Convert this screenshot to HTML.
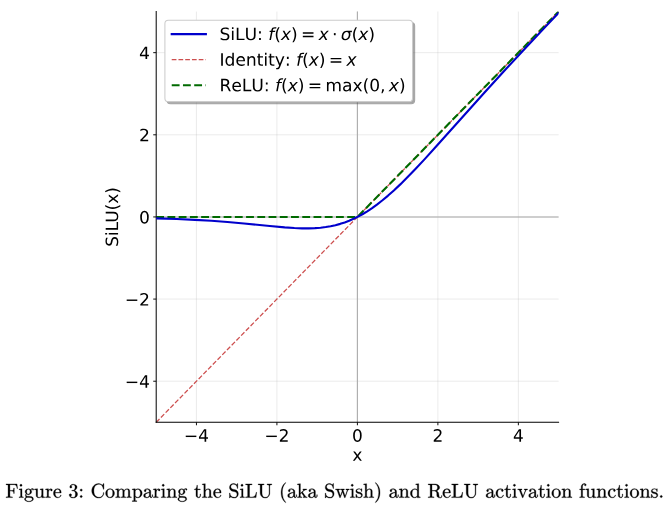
<!DOCTYPE html>
<html><head><meta charset="utf-8"><style>
html,body{margin:0;padding:0;background:#fff;width:670px;height:506px;overflow:hidden;font-family:"Liberation Sans",sans-serif;}
.wrap{position:absolute;left:0;top:0;width:670px;height:506px;filter:blur(0.35px);}
.wrap svg{display:block;width:670px;height:506px}
</style></head><body><div class="wrap">
<svg width="632.075472pt" height="477.358491pt" viewBox="0 0 632.075472 477.358491" version="1.1">
 
 <defs>
  <style type="text/css">*{stroke-linejoin: round; stroke-linecap: butt}</style>
 </defs>
 <g id="figure_1">
  <g id="patch_1">
   <path d="M 0 477.358491 
L 632.075472 477.358491 
L 632.075472 0 
L 0 0 
z
" style="fill: #ffffff"/>
  </g>
  <g id="axes_1">
   <g id="patch_2">
    <path d="M 147.358491 398.396226 
L 526.981132 398.396226 
L 526.981132 10.943396 
L 147.358491 10.943396 
z
" style="fill: #ffffff"/>
   </g>
   <g id="line2d_1">
    <path d="M 147.358491 204.669811 
L 526.981132 204.669811 
" clip-path="url(#pacdad2849d)" style="fill: none; stroke: #808080; stroke-opacity: 0.68; stroke-linecap: square"/>
   </g>
   <g id="line2d_2">
    <path d="M 337.169811 398.396226 
L 337.169811 10.943396 
" clip-path="url(#pacdad2849d)" style="fill: none; stroke: #808080; stroke-opacity: 0.68; stroke-linecap: square"/>
   </g>
   <g id="matplotlib.axis_1">
    <g id="xtick_1">
     <g id="line2d_3">
      <path d="M 185.320755 398.396226 
L 185.320755 10.943396 
" clip-path="url(#pacdad2849d)" style="fill: none; stroke: #b0b0b0; stroke-opacity: 0.3; stroke-width: 0.8; stroke-linecap: square"/>
     </g>
     <g id="line2d_4">
      <defs>
       <path id="m2d3abd2fa3" d="M 0 0 
L 0 2.8 
" style="stroke: #000000; stroke-width: 0.9"/>
      </defs>
      <g>
       <use xlink:href="#m2d3abd2fa3" x="185.320755" y="398.396226" style="stroke: #000000; stroke-width: 0.9"/>
      </g>
     </g>
     <g id="text_1">
      <!-- −4 -->
      <g transform="translate(173.527005 416.653726) scale(0.16 -0.16)">
       <defs>
        <path id="DejaVuSans-2212" d="M 678 2272 
L 4684 2272 
L 4684 1741 
L 678 1741 
L 678 2272 
z
" transform="scale(0.015625)"/>
        <path id="DejaVuSans-34" d="M 2419 4116 
L 825 1625 
L 2419 1625 
L 2419 4116 
z
M 2253 4666 
L 3047 4666 
L 3047 1625 
L 3713 1625 
L 3713 1100 
L 3047 1100 
L 3047 0 
L 2419 0 
L 2419 1100 
L 313 1100 
L 313 1709 
L 2253 4666 
z
" transform="scale(0.015625)"/>
       </defs>
       <use xlink:href="#DejaVuSans-2212"/>
       <use xlink:href="#DejaVuSans-34" transform="translate(83.789062 0)"/>
      </g>
     </g>
    </g>
    <g id="xtick_2">
     <g id="line2d_5">
      <path d="M 261.245283 398.396226 
L 261.245283 10.943396 
" clip-path="url(#pacdad2849d)" style="fill: none; stroke: #b0b0b0; stroke-opacity: 0.3; stroke-width: 0.8; stroke-linecap: square"/>
     </g>
     <g id="line2d_6">
      <g>
       <use xlink:href="#m2d3abd2fa3" x="261.245283" y="398.396226" style="stroke: #000000; stroke-width: 0.9"/>
      </g>
     </g>
     <g id="text_2">
      <!-- −2 -->
      <g transform="translate(249.451533 416.653726) scale(0.16 -0.16)">
       <defs>
        <path id="DejaVuSans-32" d="M 1228 531 
L 3431 531 
L 3431 0 
L 469 0 
L 469 531 
Q 828 903 1448 1529 
Q 2069 2156 2228 2338 
Q 2531 2678 2651 2914 
Q 2772 3150 2772 3378 
Q 2772 3750 2511 3984 
Q 2250 4219 1831 4219 
Q 1534 4219 1204 4116 
Q 875 4013 500 3803 
L 500 4441 
Q 881 4594 1212 4672 
Q 1544 4750 1819 4750 
Q 2544 4750 2975 4387 
Q 3406 4025 3406 3419 
Q 3406 3131 3298 2873 
Q 3191 2616 2906 2266 
Q 2828 2175 2409 1742 
Q 1991 1309 1228 531 
z
" transform="scale(0.015625)"/>
       </defs>
       <use xlink:href="#DejaVuSans-2212"/>
       <use xlink:href="#DejaVuSans-32" transform="translate(83.789062 0)"/>
      </g>
     </g>
    </g>
    <g id="xtick_3">
     <g id="line2d_7">
      <path d="M 337.169811 398.396226 
L 337.169811 10.943396 
" clip-path="url(#pacdad2849d)" style="fill: none; stroke: #b0b0b0; stroke-opacity: 0.3; stroke-width: 0.8; stroke-linecap: square"/>
     </g>
     <g id="line2d_8">
      <g>
       <use xlink:href="#m2d3abd2fa3" x="337.169811" y="398.396226" style="stroke: #000000; stroke-width: 0.9"/>
      </g>
     </g>
     <g id="text_3">
      <!-- 0 -->
      <g transform="translate(332.079811 416.653726) scale(0.16 -0.16)">
       <defs>
        <path id="DejaVuSans-30" d="M 2034 4250 
Q 1547 4250 1301 3770 
Q 1056 3291 1056 2328 
Q 1056 1369 1301 889 
Q 1547 409 2034 409 
Q 2525 409 2770 889 
Q 3016 1369 3016 2328 
Q 3016 3291 2770 3770 
Q 2525 4250 2034 4250 
z
M 2034 4750 
Q 2819 4750 3233 4129 
Q 3647 3509 3647 2328 
Q 3647 1150 3233 529 
Q 2819 -91 2034 -91 
Q 1250 -91 836 529 
Q 422 1150 422 2328 
Q 422 3509 836 4129 
Q 1250 4750 2034 4750 
z
" transform="scale(0.015625)"/>
       </defs>
       <use xlink:href="#DejaVuSans-30"/>
      </g>
     </g>
    </g>
    <g id="xtick_4">
     <g id="line2d_9">
      <path d="M 413.09434 398.396226 
L 413.09434 10.943396 
" clip-path="url(#pacdad2849d)" style="fill: none; stroke: #b0b0b0; stroke-opacity: 0.3; stroke-width: 0.8; stroke-linecap: square"/>
     </g>
     <g id="line2d_10">
      <g>
       <use xlink:href="#m2d3abd2fa3" x="413.09434" y="398.396226" style="stroke: #000000; stroke-width: 0.9"/>
      </g>
     </g>
     <g id="text_4">
      <!-- 2 -->
      <g transform="translate(408.00434 416.653726) scale(0.16 -0.16)">
       <use xlink:href="#DejaVuSans-32"/>
      </g>
     </g>
    </g>
    <g id="xtick_5">
     <g id="line2d_11">
      <path d="M 489.018868 398.396226 
L 489.018868 10.943396 
" clip-path="url(#pacdad2849d)" style="fill: none; stroke: #b0b0b0; stroke-opacity: 0.3; stroke-width: 0.8; stroke-linecap: square"/>
     </g>
     <g id="line2d_12">
      <g>
       <use xlink:href="#m2d3abd2fa3" x="489.018868" y="398.396226" style="stroke: #000000; stroke-width: 0.9"/>
      </g>
     </g>
     <g id="text_5">
      <!-- 4 -->
      <g transform="translate(483.928868 416.653726) scale(0.16 -0.16)">
       <use xlink:href="#DejaVuSans-34"/>
      </g>
     </g>
    </g>
    <g id="text_6">
     <!-- x -->
     <g transform="translate(332.434811 434.738726) scale(0.16 -0.16)">
      <defs>
       <path id="DejaVuSans-78" d="M 3513 3500 
L 2247 1797 
L 3578 0 
L 2900 0 
L 1881 1375 
L 863 0 
L 184 0 
L 1544 1831 
L 300 3500 
L 978 3500 
L 1906 2253 
L 2834 3500 
L 3513 3500 
z
" transform="scale(0.015625)"/>
      </defs>
      <use xlink:href="#DejaVuSans-78"/>
     </g>
    </g>
   </g>
   <g id="matplotlib.axis_2">
    <g id="ytick_1">
     <g id="line2d_13">
      <path d="M 147.358491 359.650943 
L 526.981132 359.650943 
" clip-path="url(#pacdad2849d)" style="fill: none; stroke: #b0b0b0; stroke-opacity: 0.3; stroke-width: 0.8; stroke-linecap: square"/>
     </g>
     <g id="line2d_14">
      <defs>
       <path id="md44cdd3d71" d="M 0 0 
L -2.8 0 
" style="stroke: #000000; stroke-width: 0.9"/>
      </defs>
      <g>
       <use xlink:href="#md44cdd3d71" x="147.358491" y="359.650943" style="stroke: #000000; stroke-width: 0.9"/>
      </g>
     </g>
     <g id="text_7">
      <!-- −4 -->
      <g transform="translate(117.810991 365.729693) scale(0.16 -0.16)">
       <use xlink:href="#DejaVuSans-2212"/>
       <use xlink:href="#DejaVuSans-34" transform="translate(83.789062 0)"/>
      </g>
     </g>
    </g>
    <g id="ytick_2">
     <g id="line2d_15">
      <path d="M 147.358491 282.160377 
L 526.981132 282.160377 
" clip-path="url(#pacdad2849d)" style="fill: none; stroke: #b0b0b0; stroke-opacity: 0.3; stroke-width: 0.8; stroke-linecap: square"/>
     </g>
     <g id="line2d_16">
      <g>
       <use xlink:href="#md44cdd3d71" x="147.358491" y="282.160377" style="stroke: #000000; stroke-width: 0.9"/>
      </g>
     </g>
     <g id="text_8">
      <!-- −2 -->
      <g transform="translate(117.810991 288.239127) scale(0.16 -0.16)">
       <use xlink:href="#DejaVuSans-2212"/>
       <use xlink:href="#DejaVuSans-32" transform="translate(83.789062 0)"/>
      </g>
     </g>
    </g>
    <g id="ytick_3">
     <g id="line2d_17">
      <path d="M 147.358491 204.669811 
L 526.981132 204.669811 
" clip-path="url(#pacdad2849d)" style="fill: none; stroke: #b0b0b0; stroke-opacity: 0.3; stroke-width: 0.8; stroke-linecap: square"/>
     </g>
     <g id="line2d_18">
      <g>
       <use xlink:href="#md44cdd3d71" x="147.358491" y="204.669811" style="stroke: #000000; stroke-width: 0.9"/>
      </g>
     </g>
     <g id="text_9">
      <!-- 0 -->
      <g transform="translate(131.218491 210.748561) scale(0.16 -0.16)">
       <use xlink:href="#DejaVuSans-30"/>
      </g>
     </g>
    </g>
    <g id="ytick_4">
     <g id="line2d_19">
      <path d="M 147.358491 127.179245 
L 526.981132 127.179245 
" clip-path="url(#pacdad2849d)" style="fill: none; stroke: #b0b0b0; stroke-opacity: 0.3; stroke-width: 0.8; stroke-linecap: square"/>
     </g>
     <g id="line2d_20">
      <g>
       <use xlink:href="#md44cdd3d71" x="147.358491" y="127.179245" style="stroke: #000000; stroke-width: 0.9"/>
      </g>
     </g>
     <g id="text_10">
      <!-- 2 -->
      <g transform="translate(131.218491 133.257995) scale(0.16 -0.16)">
       <use xlink:href="#DejaVuSans-32"/>
      </g>
     </g>
    </g>
    <g id="ytick_5">
     <g id="line2d_21">
      <path d="M 147.358491 49.688679 
L 526.981132 49.688679 
" clip-path="url(#pacdad2849d)" style="fill: none; stroke: #b0b0b0; stroke-opacity: 0.3; stroke-width: 0.8; stroke-linecap: square"/>
     </g>
     <g id="line2d_22">
      <g>
       <use xlink:href="#md44cdd3d71" x="147.358491" y="49.688679" style="stroke: #000000; stroke-width: 0.9"/>
      </g>
     </g>
     <g id="text_11">
      <!-- 4 -->
      <g transform="translate(131.218491 55.767429) scale(0.16 -0.16)">
       <use xlink:href="#DejaVuSans-34"/>
      </g>
     </g>
    </g>
    <g id="text_12">
     <!-- SiLU(x) -->
     <g transform="translate(111.383491 232.861061) rotate(-90) scale(0.16 -0.16)">
      <defs>
       <path id="DejaVuSans-53" d="M 3425 4513 
L 3425 3897 
Q 3066 4069 2747 4153 
Q 2428 4238 2131 4238 
Q 1616 4238 1336 4038 
Q 1056 3838 1056 3469 
Q 1056 3159 1242 3001 
Q 1428 2844 1947 2747 
L 2328 2669 
Q 3034 2534 3370 2195 
Q 3706 1856 3706 1288 
Q 3706 609 3251 259 
Q 2797 -91 1919 -91 
Q 1588 -91 1214 -16 
Q 841 59 441 206 
L 441 856 
Q 825 641 1194 531 
Q 1563 422 1919 422 
Q 2459 422 2753 634 
Q 3047 847 3047 1241 
Q 3047 1584 2836 1778 
Q 2625 1972 2144 2069 
L 1759 2144 
Q 1053 2284 737 2584 
Q 422 2884 422 3419 
Q 422 4038 858 4394 
Q 1294 4750 2059 4750 
Q 2388 4750 2728 4690 
Q 3069 4631 3425 4513 
z
" transform="scale(0.015625)"/>
       <path id="DejaVuSans-69" d="M 603 3500 
L 1178 3500 
L 1178 0 
L 603 0 
L 603 3500 
z
M 603 4863 
L 1178 4863 
L 1178 4134 
L 603 4134 
L 603 4863 
z
" transform="scale(0.015625)"/>
       <path id="DejaVuSans-4c" d="M 628 4666 
L 1259 4666 
L 1259 531 
L 3531 531 
L 3531 0 
L 628 0 
L 628 4666 
z
" transform="scale(0.015625)"/>
       <path id="DejaVuSans-55" d="M 556 4666 
L 1191 4666 
L 1191 1831 
Q 1191 1081 1462 751 
Q 1734 422 2344 422 
Q 2950 422 3222 751 
Q 3494 1081 3494 1831 
L 3494 4666 
L 4128 4666 
L 4128 1753 
Q 4128 841 3676 375 
Q 3225 -91 2344 -91 
Q 1459 -91 1007 375 
Q 556 841 556 1753 
L 556 4666 
z
" transform="scale(0.015625)"/>
       <path id="DejaVuSans-28" d="M 1984 4856 
Q 1566 4138 1362 3434 
Q 1159 2731 1159 2009 
Q 1159 1288 1364 580 
Q 1569 -128 1984 -844 
L 1484 -844 
Q 1016 -109 783 600 
Q 550 1309 550 2009 
Q 550 2706 781 3412 
Q 1013 4119 1484 4856 
L 1984 4856 
z
" transform="scale(0.015625)"/>
       <path id="DejaVuSans-29" d="M 513 4856 
L 1013 4856 
Q 1481 4119 1714 3412 
Q 1947 2706 1947 2009 
Q 1947 1309 1714 600 
Q 1481 -109 1013 -844 
L 513 -844 
Q 928 -128 1133 580 
Q 1338 1288 1338 2009 
Q 1338 2731 1133 3434 
Q 928 4138 513 4856 
z
" transform="scale(0.015625)"/>
      </defs>
      <use xlink:href="#DejaVuSans-53"/>
      <use xlink:href="#DejaVuSans-69" transform="translate(63.476562 0)"/>
      <use xlink:href="#DejaVuSans-4c" transform="translate(91.259766 0)"/>
      <use xlink:href="#DejaVuSans-55" transform="translate(141.972656 0)"/>
      <use xlink:href="#DejaVuSans-28" transform="translate(215.166016 0)"/>
      <use xlink:href="#DejaVuSans-78" transform="translate(254.179688 0)"/>
      <use xlink:href="#DejaVuSans-29" transform="translate(313.359375 0)"/>
     </g>
    </g>
   </g>
   <g id="line2d_23">
    <path d="M 147.358491 398.396226 
L 526.981132 10.943396 
L 526.981132 10.943396 
" clip-path="url(#pacdad2849d)" style="fill: none; stroke-dasharray: 4.44,1.92; stroke-dashoffset: 0; stroke: #c83c3c; stroke-opacity: 0.9; stroke-width: 1.2"/>
   </g>
   <g id="line2d_24">
    <path d="M 147.358491 204.669811 
L 336.97981 204.669811 
L 337.359813 204.475891 
L 526.981132 10.943396 
L 526.981132 10.943396 
" clip-path="url(#pacdad2849d)" style="fill: none; stroke-dasharray: 7.4,3.2; stroke-dashoffset: 0; stroke: #006a00; stroke-width: 2"/>
   </g>
   <g id="patch_3">
    <path d="M 147.358491 398.396226 
L 147.358491 10.943396 
" style="fill: none; stroke: #000000; stroke-width: 0.95; stroke-linejoin: miter; stroke-linecap: square"/>
   </g>
   <g id="patch_4">
    <path d="M 147.358491 398.396226 
L 526.981132 398.396226 
" style="fill: none; stroke: #000000; stroke-width: 0.95; stroke-linejoin: miter; stroke-linecap: square"/>
   </g>
   <g id="line2d_25">
    <path d="M 147.358491 205.966393 
L 166.738625 206.600921 
L 183.838744 207.378638 
L 199.418853 208.306338 
L 214.618959 209.437452 
L 230.199067 210.824007 
L 254.519236 213.258771 
L 268.579334 214.542265 
L 277.699398 215.152583 
L 284.919448 215.420307 
L 291.379493 215.436248 
L 297.079532 215.22906 
L 302.399569 214.811789 
L 307.339604 214.201511 
L 311.899635 213.425169 
L 316.459667 212.425061 
L 321.019699 211.1843 
L 325.199728 209.823152 
L 329.379757 208.238721 
L 333.559786 206.424526 
L 337.739815 204.376747 
L 341.919844 202.094353 
L 346.479876 199.33908 
L 351.039908 196.312869 
L 355.59994 193.025456 
L 360.539974 189.184468 
L 365.860011 184.745435 
L 371.560051 179.673236 
L 377.640093 173.945143 
L 384.100138 167.553008 
L 391.700191 159.705904 
L 400.440252 150.353387 
L 411.840331 137.811317 
L 432.360474 114.834686 
L 456.680643 87.714974 
L 474.92077 67.714095 
L 493.540899 47.626712 
L 514.061042 25.823596 
L 526.981132 12.239978 
L 526.981132 12.239978 
" clip-path="url(#pacdad2849d)" style="fill: none; stroke: #0000cc; stroke-width: 2; stroke-linecap: square"/>
   </g>
   <g id="legend_1">
    <g id="patch_5">
     <path d="M 160.789491 97.880959 
L 387.960491 97.880959 
Q 391.180491 97.880959 391.180491 94.660959 
L 391.180491 24.374396 
Q 391.180491 21.154396 387.960491 21.154396 
L 160.789491 21.154396 
Q 157.569491 21.154396 157.569491 24.374396 
L 157.569491 94.660959 
Q 157.569491 97.880959 160.789491 97.880959 
z
" style="fill: #4d4d4d; opacity: 0.5; stroke: #4d4d4d; stroke-linejoin: miter"/>
    </g>
    <g id="patch_6">
     <path d="M 158.789491 95.880959 
L 385.960491 95.880959 
Q 389.180491 95.880959 389.180491 92.660959 
L 389.180491 22.374396 
Q 389.180491 19.154396 385.960491 19.154396 
L 158.789491 19.154396 
Q 155.569491 19.154396 155.569491 22.374396 
L 155.569491 92.660959 
Q 155.569491 95.880959 158.789491 95.880959 
z
" style="fill: #ffffff; stroke: #cccccc; stroke-linejoin: miter"/>
    </g>
    <g id="line2d_26">
     <path d="M 162.009491 32.192881 
L 178.109491 32.192881 
L 194.209491 32.192881 
" style="fill: none; stroke: #0000cc; stroke-width: 2; stroke-linecap: square"/>
    </g>
    <g id="text_13">
     <!-- SiLU: $f(x) = x \cdot \sigma(x)$ -->
     <g transform="translate(207.089491 37.827881) scale(0.161 -0.161)">
      <defs>
       <path id="DejaVuSans-3a" d="M 750 794 
L 1409 794 
L 1409 0 
L 750 0 
L 750 794 
z
M 750 3309 
L 1409 3309 
L 1409 2516 
L 750 2516 
L 750 3309 
z
" transform="scale(0.015625)"/>
       <path id="DejaVuSans-20" transform="scale(0.015625)"/>
       <path id="DejaVuSans-Oblique-66" d="M 3059 4863 
L 2969 4384 
L 2419 4384 
Q 2106 4384 1964 4261 
Q 1822 4138 1753 3809 
L 1691 3500 
L 2638 3500 
L 2553 3053 
L 1606 3053 
L 1013 0 
L 434 0 
L 1031 3053 
L 481 3053 
L 563 3500 
L 1113 3500 
L 1159 3744 
Q 1278 4363 1576 4613 
Q 1875 4863 2516 4863 
L 3059 4863 
z
" transform="scale(0.015625)"/>
       <path id="DejaVuSans-Oblique-78" d="M 3841 3500 
L 2234 1784 
L 3219 0 
L 2559 0 
L 1819 1388 
L 531 0 
L -166 0 
L 1556 1844 
L 641 3500 
L 1300 3500 
L 1972 2234 
L 3144 3500 
L 3841 3500 
z
" transform="scale(0.015625)"/>
       <path id="DejaVuSans-3d" d="M 678 2906 
L 4684 2906 
L 4684 2381 
L 678 2381 
L 678 2906 
z
M 678 1631 
L 4684 1631 
L 4684 1100 
L 678 1100 
L 678 1631 
z
" transform="scale(0.015625)"/>
       <path id="DejaVuSans-22c5" d="M 684 2619 
L 1344 2619 
L 1344 1825 
L 684 1825 
L 684 2619 
z
" transform="scale(0.015625)"/>
       <path id="DejaVuSans-Oblique-3c3" d="M 2219 3044 
Q 1744 3044 1422 2700 
Q 1081 2341 969 1747 
Q 844 1119 1044 756 
Q 1241 397 1706 397 
Q 2166 397 2503 759 
Q 2844 1122 2966 1747 
Q 3075 2319 2881 2700 
Q 2700 3044 2219 3044 
z
M 2309 3503 
L 4219 3500 
L 4106 2925 
L 3463 2925 
Q 3706 2438 3575 1747 
Q 3406 888 2884 400 
Q 2359 -91 1609 -91 
Q 856 -91 525 400 
Q 194 888 363 1747 
Q 528 2609 1050 3097 
Q 1484 3503 2309 3503 
z
" transform="scale(0.015625)"/>
      </defs>
      <use xlink:href="#DejaVuSans-53" transform="translate(0 0.015625)"/>
      <use xlink:href="#DejaVuSans-69" transform="translate(63.476562 0.015625)"/>
      <use xlink:href="#DejaVuSans-4c" transform="translate(91.259766 0.015625)"/>
      <use xlink:href="#DejaVuSans-55" transform="translate(146.972656 0.015625)"/>
      <use xlink:href="#DejaVuSans-3a" transform="translate(220.166016 0.015625)"/>
      <use xlink:href="#DejaVuSans-20" transform="translate(253.857422 0.015625)"/>
      <use xlink:href="#DejaVuSans-Oblique-66" transform="translate(285.644531 0.015625)"/>
      <use xlink:href="#DejaVuSans-28" transform="translate(320.849609 0.015625)"/>
      <use xlink:href="#DejaVuSans-Oblique-78" transform="translate(359.863281 0.015625)"/>
      <use xlink:href="#DejaVuSans-29" transform="translate(419.042969 0.015625)"/>
      <use xlink:href="#DejaVuSans-3d" transform="translate(477.539062 0.015625)"/>
      <use xlink:href="#DejaVuSans-Oblique-78" transform="translate(580.810547 0.015625)"/>
      <use xlink:href="#DejaVuSans-22c5" transform="translate(659.472656 0.015625)"/>
      <use xlink:href="#DejaVuSans-Oblique-3c3" transform="translate(710.742188 0.015625)"/>
      <use xlink:href="#DejaVuSans-28" transform="translate(774.121094 0.015625)"/>
      <use xlink:href="#DejaVuSans-Oblique-78" transform="translate(813.134766 0.015625)"/>
      <use xlink:href="#DejaVuSans-29" transform="translate(872.314453 0.015625)"/>
     </g>
    </g>
    <g id="line2d_27">
     <path d="M 162.009491 56.310177 
L 178.109491 56.310177 
L 194.209491 56.310177 
" style="fill: none; stroke-dasharray: 4.44,1.92; stroke-dashoffset: 0; stroke: #c83c3c; stroke-opacity: 0.9; stroke-width: 1.2"/>
    </g>
    <g id="text_14">
     <!-- Identity: $f(x) = x$ -->
     <g transform="translate(207.089491 61.945177) scale(0.161 -0.161)">
      <defs>
       <path id="DejaVuSans-49" d="M 628 4666 
L 1259 4666 
L 1259 0 
L 628 0 
L 628 4666 
z
" transform="scale(0.015625)"/>
       <path id="DejaVuSans-64" d="M 2906 2969 
L 2906 4863 
L 3481 4863 
L 3481 0 
L 2906 0 
L 2906 525 
Q 2725 213 2448 61 
Q 2172 -91 1784 -91 
Q 1150 -91 751 415 
Q 353 922 353 1747 
Q 353 2572 751 3078 
Q 1150 3584 1784 3584 
Q 2172 3584 2448 3432 
Q 2725 3281 2906 2969 
z
M 947 1747 
Q 947 1113 1208 752 
Q 1469 391 1925 391 
Q 2381 391 2643 752 
Q 2906 1113 2906 1747 
Q 2906 2381 2643 2742 
Q 2381 3103 1925 3103 
Q 1469 3103 1208 2742 
Q 947 2381 947 1747 
z
" transform="scale(0.015625)"/>
       <path id="DejaVuSans-65" d="M 3597 1894 
L 3597 1613 
L 953 1613 
Q 991 1019 1311 708 
Q 1631 397 2203 397 
Q 2534 397 2845 478 
Q 3156 559 3463 722 
L 3463 178 
Q 3153 47 2828 -22 
Q 2503 -91 2169 -91 
Q 1331 -91 842 396 
Q 353 884 353 1716 
Q 353 2575 817 3079 
Q 1281 3584 2069 3584 
Q 2775 3584 3186 3129 
Q 3597 2675 3597 1894 
z
M 3022 2063 
Q 3016 2534 2758 2815 
Q 2500 3097 2075 3097 
Q 1594 3097 1305 2825 
Q 1016 2553 972 2059 
L 3022 2063 
z
" transform="scale(0.015625)"/>
       <path id="DejaVuSans-6e" d="M 3513 2113 
L 3513 0 
L 2938 0 
L 2938 2094 
Q 2938 2591 2744 2837 
Q 2550 3084 2163 3084 
Q 1697 3084 1428 2787 
Q 1159 2491 1159 1978 
L 1159 0 
L 581 0 
L 581 3500 
L 1159 3500 
L 1159 2956 
Q 1366 3272 1645 3428 
Q 1925 3584 2291 3584 
Q 2894 3584 3203 3211 
Q 3513 2838 3513 2113 
z
" transform="scale(0.015625)"/>
       <path id="DejaVuSans-74" d="M 1172 4494 
L 1172 3500 
L 2356 3500 
L 2356 3053 
L 1172 3053 
L 1172 1153 
Q 1172 725 1289 603 
Q 1406 481 1766 481 
L 2356 481 
L 2356 0 
L 1766 0 
Q 1100 0 847 248 
Q 594 497 594 1153 
L 594 3053 
L 172 3053 
L 172 3500 
L 594 3500 
L 594 4494 
L 1172 4494 
z
" transform="scale(0.015625)"/>
       <path id="DejaVuSans-79" d="M 2059 -325 
Q 1816 -950 1584 -1140 
Q 1353 -1331 966 -1331 
L 506 -1331 
L 506 -850 
L 844 -850 
Q 1081 -850 1212 -737 
Q 1344 -625 1503 -206 
L 1606 56 
L 191 3500 
L 800 3500 
L 1894 763 
L 2988 3500 
L 3597 3500 
L 2059 -325 
z
" transform="scale(0.015625)"/>
      </defs>
      <use xlink:href="#DejaVuSans-49" transform="translate(0 0.015625)"/>
      <use xlink:href="#DejaVuSans-64" transform="translate(29.492188 0.015625)"/>
      <use xlink:href="#DejaVuSans-65" transform="translate(92.96875 0.015625)"/>
      <use xlink:href="#DejaVuSans-6e" transform="translate(154.492188 0.015625)"/>
      <use xlink:href="#DejaVuSans-74" transform="translate(217.871094 0.015625)"/>
      <use xlink:href="#DejaVuSans-69" transform="translate(257.080078 0.015625)"/>
      <use xlink:href="#DejaVuSans-74" transform="translate(284.863281 0.015625)"/>
      <use xlink:href="#DejaVuSans-79" transform="translate(324.072266 0.015625)"/>
      <use xlink:href="#DejaVuSans-3a" transform="translate(383.251953 0.015625)"/>
      <use xlink:href="#DejaVuSans-20" transform="translate(416.943359 0.015625)"/>
      <use xlink:href="#DejaVuSans-Oblique-66" transform="translate(448.730469 0.015625)"/>
      <use xlink:href="#DejaVuSans-28" transform="translate(483.935547 0.015625)"/>
      <use xlink:href="#DejaVuSans-Oblique-78" transform="translate(522.949219 0.015625)"/>
      <use xlink:href="#DejaVuSans-29" transform="translate(582.128906 0.015625)"/>
      <use xlink:href="#DejaVuSans-3d" transform="translate(640.625 0.015625)"/>
      <use xlink:href="#DejaVuSans-Oblique-78" transform="translate(743.896484 0.015625)"/>
     </g>
    </g>
    <g id="line2d_28">
     <path d="M 162.009491 80.457662 
L 178.109491 80.457662 
L 194.209491 80.457662 
" style="fill: none; stroke-dasharray: 7.4,3.2; stroke-dashoffset: 0; stroke: #006a00; stroke-width: 2"/>
    </g>
    <g id="text_15">
     <!-- ReLU: $f(x) = \max(0, x)$ -->
     <g transform="translate(207.089491 86.092662) scale(0.161 -0.161)">
      <defs>
       <path id="DejaVuSans-52" d="M 2841 2188 
Q 3044 2119 3236 1894 
Q 3428 1669 3622 1275 
L 4263 0 
L 3584 0 
L 2988 1197 
Q 2756 1666 2539 1819 
Q 2322 1972 1947 1972 
L 1259 1972 
L 1259 0 
L 628 0 
L 628 4666 
L 2053 4666 
Q 2853 4666 3247 4331 
Q 3641 3997 3641 3322 
Q 3641 2881 3436 2590 
Q 3231 2300 2841 2188 
z
M 1259 4147 
L 1259 2491 
L 2053 2491 
Q 2509 2491 2742 2702 
Q 2975 2913 2975 3322 
Q 2975 3731 2742 3939 
Q 2509 4147 2053 4147 
L 1259 4147 
z
" transform="scale(0.015625)"/>
       <path id="DejaVuSans-6d" d="M 3328 2828 
Q 3544 3216 3844 3400 
Q 4144 3584 4550 3584 
Q 5097 3584 5394 3201 
Q 5691 2819 5691 2113 
L 5691 0 
L 5113 0 
L 5113 2094 
Q 5113 2597 4934 2840 
Q 4756 3084 4391 3084 
Q 3944 3084 3684 2787 
Q 3425 2491 3425 1978 
L 3425 0 
L 2847 0 
L 2847 2094 
Q 2847 2600 2669 2842 
Q 2491 3084 2119 3084 
Q 1678 3084 1418 2786 
Q 1159 2488 1159 1978 
L 1159 0 
L 581 0 
L 581 3500 
L 1159 3500 
L 1159 2956 
Q 1356 3278 1631 3431 
Q 1906 3584 2284 3584 
Q 2666 3584 2933 3390 
Q 3200 3197 3328 2828 
z
" transform="scale(0.015625)"/>
       <path id="DejaVuSans-61" d="M 2194 1759 
Q 1497 1759 1228 1600 
Q 959 1441 959 1056 
Q 959 750 1161 570 
Q 1363 391 1709 391 
Q 2188 391 2477 730 
Q 2766 1069 2766 1631 
L 2766 1759 
L 2194 1759 
z
M 3341 1997 
L 3341 0 
L 2766 0 
L 2766 531 
Q 2569 213 2275 61 
Q 1981 -91 1556 -91 
Q 1019 -91 701 211 
Q 384 513 384 1019 
Q 384 1609 779 1909 
Q 1175 2209 1959 2209 
L 2766 2209 
L 2766 2266 
Q 2766 2663 2505 2880 
Q 2244 3097 1772 3097 
Q 1472 3097 1187 3025 
Q 903 2953 641 2809 
L 641 3341 
Q 956 3463 1253 3523 
Q 1550 3584 1831 3584 
Q 2591 3584 2966 3190 
Q 3341 2797 3341 1997 
z
" transform="scale(0.015625)"/>
       <path id="DejaVuSans-2c" d="M 750 794 
L 1409 794 
L 1409 256 
L 897 -744 
L 494 -744 
L 750 256 
L 750 794 
z
" transform="scale(0.015625)"/>
      </defs>
      <use xlink:href="#DejaVuSans-52" transform="translate(0 0.015625)"/>
      <use xlink:href="#DejaVuSans-65" transform="translate(69.482422 0.015625)"/>
      <use xlink:href="#DejaVuSans-4c" transform="translate(131.005859 0.015625)"/>
      <use xlink:href="#DejaVuSans-55" transform="translate(186.71875 0.015625)"/>
      <use xlink:href="#DejaVuSans-3a" transform="translate(259.912109 0.015625)"/>
      <use xlink:href="#DejaVuSans-20" transform="translate(293.603516 0.015625)"/>
      <use xlink:href="#DejaVuSans-Oblique-66" transform="translate(325.390625 0.015625)"/>
      <use xlink:href="#DejaVuSans-28" transform="translate(360.595703 0.015625)"/>
      <use xlink:href="#DejaVuSans-Oblique-78" transform="translate(399.609375 0.015625)"/>
      <use xlink:href="#DejaVuSans-29" transform="translate(458.789062 0.015625)"/>
      <use xlink:href="#DejaVuSans-3d" transform="translate(517.285156 0.015625)"/>
      <use xlink:href="#DejaVuSans-6d" transform="translate(620.556641 0.015625)"/>
      <use xlink:href="#DejaVuSans-61" transform="translate(717.96875 0.015625)"/>
      <use xlink:href="#DejaVuSans-78" transform="translate(779.248047 0.015625)"/>
      <use xlink:href="#DejaVuSans-28" transform="translate(838.427734 0.015625)"/>
      <use xlink:href="#DejaVuSans-30" transform="translate(877.441406 0.015625)"/>
      <use xlink:href="#DejaVuSans-2c" transform="translate(941.064453 0.015625)"/>
      <use xlink:href="#DejaVuSans-Oblique-78" transform="translate(992.333984 0.015625)"/>
      <use xlink:href="#DejaVuSans-29" transform="translate(1051.513672 0.015625)"/>
     </g>
    </g>
   </g>
  </g>
  <g id="caption" style="stroke:#000;stroke-width:96">
   <!-- Figure 3: Comparing the SiLU (aka Swish) and ReLU activation functions. -->
   <g transform="translate(5.075472 469.433962) scale(0.188679 -0.188679)">
    <defs>
     <path id="Cmr10-46" d="M 197 0 
L 197 225 
Q 856 225 856 428 
L 856 3944 
Q 856 4147 197 4147 
L 197 4372 
L 3725 4372 
L 3903 2906 
L 3719 2906 
Q 3675 3309 3601 3542 
Q 3528 3775 3387 3908 
Q 3247 4041 3011 4094 
Q 2775 4147 2363 4147 
L 1778 4147 
Q 1663 4147 1598 4137 
Q 1534 4128 1493 4083 
Q 1453 4038 1453 3944 
L 1453 2297 
L 1906 2297 
Q 2234 2297 2387 2355 
Q 2541 2413 2598 2566 
Q 2656 2719 2656 3047 
L 2841 3047 
L 2841 1325 
L 2656 1325 
Q 2656 1653 2598 1806 
Q 2541 1959 2387 2017 
Q 2234 2075 1906 2075 
L 1453 2075 
L 1453 428 
Q 1453 225 2272 225 
L 2272 0 
L 197 0 
z
" transform="scale(0.015625)"/>
     <path id="Cmr10-69" d="M 197 0 
L 197 225 
Q 416 225 556 259 
Q 697 294 697 428 
L 697 2175 
Q 697 2422 601 2478 
Q 506 2534 225 2534 
L 225 2759 
L 1147 2828 
L 1147 428 
Q 1147 294 1269 259 
Q 1391 225 1594 225 
L 1594 0 
L 197 0 
z
M 469 3928 
Q 469 4069 575 4175 
Q 681 4281 819 4281 
Q 909 4281 993 4234 
Q 1078 4188 1125 4103 
Q 1172 4019 1172 3928 
Q 1172 3791 1065 3684 
Q 959 3578 819 3578 
Q 681 3578 575 3684 
Q 469 3791 469 3928 
z
" transform="scale(0.015625)"/>
     <path id="Cmr10-67" d="M 178 -500 
Q 178 -272 343 -101 
Q 509 69 738 141 
Q 609 238 542 384 
Q 475 531 475 697 
Q 475 997 666 1228 
Q 372 1516 372 1888 
Q 372 2088 458 2263 
Q 544 2438 697 2566 
Q 850 2694 1037 2761 
Q 1225 2828 1422 2828 
Q 1803 2828 2106 2606 
Q 2238 2747 2417 2823 
Q 2597 2900 2791 2900 
Q 2928 2900 3015 2801 
Q 3103 2703 3103 2566 
Q 3103 2488 3043 2428 
Q 2984 2369 2906 2369 
Q 2825 2369 2765 2428 
Q 2706 2488 2706 2566 
Q 2706 2684 2784 2731 
Q 2453 2731 2216 2503 
Q 2331 2388 2401 2220 
Q 2472 2053 2472 1888 
Q 2472 1616 2322 1398 
Q 2172 1181 1926 1061 
Q 1681 941 1422 941 
Q 1072 941 781 1131 
Q 691 1006 691 850 
Q 691 681 802 554 
Q 913 428 1081 428 
L 1606 428 
Q 1988 428 2294 359 
Q 2600 291 2808 84 
Q 3016 -122 3016 -500 
Q 3016 -781 2778 -967 
Q 2541 -1153 2211 -1236 
Q 1881 -1319 1600 -1319 
Q 1316 -1319 984 -1236 
Q 653 -1153 415 -967 
Q 178 -781 178 -500 
z
M 538 -500 
Q 538 -716 713 -861 
Q 888 -1006 1134 -1076 
Q 1381 -1147 1600 -1147 
Q 1816 -1147 2062 -1076 
Q 2309 -1006 2482 -861 
Q 2656 -716 2656 -500 
Q 2656 -166 2350 -67 
Q 2044 31 1606 31 
L 1081 31 
Q 934 31 811 -39 
Q 688 -109 613 -236 
Q 538 -363 538 -500 
z
M 1422 1113 
Q 1966 1113 1966 1888 
Q 1966 2222 1850 2439 
Q 1734 2656 1422 2656 
Q 1109 2656 993 2439 
Q 878 2222 878 1888 
Q 878 1675 922 1503 
Q 966 1331 1084 1222 
Q 1203 1113 1422 1113 
z
" transform="scale(0.015625)"/>
     <path id="Cmr10-75" d="M 691 763 
L 691 2175 
Q 691 2347 639 2423 
Q 588 2500 491 2517 
Q 394 2534 191 2534 
L 191 2759 
L 1159 2828 
L 1159 763 
Q 1159 513 1195 373 
Q 1231 234 1348 165 
Q 1466 97 1722 97 
Q 2066 97 2269 384 
Q 2472 672 2472 1038 
L 2472 2175 
Q 2472 2347 2419 2423 
Q 2366 2500 2270 2517 
Q 2175 2534 1972 2534 
L 1972 2759 
L 2938 2828 
L 2938 581 
Q 2938 413 2989 336 
Q 3041 259 3137 242 
Q 3234 225 3438 225 
L 3438 0 
L 2491 -72 
L 2491 469 
Q 2372 228 2159 78 
Q 1947 -72 1691 -72 
Q 1231 -72 961 123 
Q 691 319 691 763 
z
" transform="scale(0.015625)"/>
     <path id="Cmr10-72" d="M 166 0 
L 166 225 
Q 384 225 525 259 
Q 666 294 666 428 
L 666 2175 
Q 666 2347 614 2423 
Q 563 2500 466 2517 
Q 369 2534 166 2534 
L 166 2759 
L 1081 2828 
L 1081 2203 
Q 1184 2481 1375 2654 
Q 1566 2828 1838 2828 
Q 2028 2828 2178 2715 
Q 2328 2603 2328 2419 
Q 2328 2303 2245 2217 
Q 2163 2131 2041 2131 
Q 1922 2131 1837 2215 
Q 1753 2300 1753 2419 
Q 1753 2591 1875 2663 
L 1838 2663 
Q 1578 2663 1414 2475 
Q 1250 2288 1181 2009 
Q 1113 1731 1113 1478 
L 1113 428 
Q 1113 225 1734 225 
L 1734 0 
L 166 0 
z
" transform="scale(0.015625)"/>
     <path id="Cmr10-65" d="M 1594 -72 
Q 1203 -72 876 133 
Q 550 338 364 680 
Q 178 1022 178 1403 
Q 178 1778 348 2115 
Q 519 2453 823 2661 
Q 1128 2869 1503 2869 
Q 1797 2869 2014 2770 
Q 2231 2672 2372 2497 
Q 2513 2322 2584 2084 
Q 2656 1847 2656 1563 
Q 2656 1478 2591 1478 
L 738 1478 
L 738 1409 
Q 738 878 952 497 
Q 1166 116 1650 116 
Q 1847 116 2014 203 
Q 2181 291 2304 447 
Q 2428 603 2472 781 
Q 2478 803 2495 820 
Q 2513 838 2534 838 
L 2591 838 
Q 2656 838 2656 756 
Q 2566 394 2266 161 
Q 1966 -72 1594 -72 
z
M 744 1638 
L 2203 1638 
Q 2203 1878 2136 2125 
Q 2069 2372 1912 2536 
Q 1756 2700 1503 2700 
Q 1141 2700 942 2361 
Q 744 2022 744 1638 
z
" transform="scale(0.015625)"/>
     <path id="Cmr10-20" transform="scale(0.015625)"/>
     <path id="Cmr10-33" d="M 609 494 
Q 759 275 1012 169 
Q 1266 63 1556 63 
Q 1928 63 2084 380 
Q 2241 697 2241 1100 
Q 2241 1281 2208 1462 
Q 2175 1644 2097 1800 
Q 2019 1956 1883 2050 
Q 1747 2144 1550 2144 
L 1125 2144 
Q 1069 2144 1069 2203 
L 1069 2259 
Q 1069 2309 1125 2309 
L 1478 2338 
Q 1703 2338 1851 2506 
Q 2000 2675 2069 2917 
Q 2138 3159 2138 3378 
Q 2138 3684 1994 3881 
Q 1850 4078 1556 4078 
Q 1313 4078 1091 3986 
Q 869 3894 738 3706 
Q 750 3709 759 3711 
Q 769 3713 781 3713 
Q 925 3713 1022 3613 
Q 1119 3513 1119 3372 
Q 1119 3234 1022 3134 
Q 925 3034 781 3034 
Q 641 3034 541 3134 
Q 441 3234 441 3372 
Q 441 3647 606 3850 
Q 772 4053 1033 4158 
Q 1294 4263 1556 4263 
Q 1750 4263 1965 4205 
Q 2181 4147 2356 4039 
Q 2531 3931 2642 3762 
Q 2753 3594 2753 3378 
Q 2753 3109 2633 2881 
Q 2513 2653 2303 2487 
Q 2094 2322 1844 2241 
Q 2122 2188 2372 2031 
Q 2622 1875 2773 1631 
Q 2925 1388 2925 1106 
Q 2925 753 2731 467 
Q 2538 181 2222 20 
Q 1906 -141 1556 -141 
Q 1256 -141 954 -26 
Q 653 88 461 316 
Q 269 544 269 863 
Q 269 1022 375 1128 
Q 481 1234 641 1234 
Q 744 1234 830 1186 
Q 916 1138 964 1050 
Q 1013 963 1013 863 
Q 1013 706 903 600 
Q 794 494 641 494 
L 609 494 
z
" transform="scale(0.015625)"/>
     <path id="Cmr10-3a" d="M 538 353 
Q 538 497 644 600 
Q 750 703 891 703 
Q 978 703 1062 656 
Q 1147 609 1194 525 
Q 1241 441 1241 353 
Q 1241 213 1137 106 
Q 1034 0 891 0 
Q 750 0 644 106 
Q 538 213 538 353 
z
M 538 2406 
Q 538 2497 584 2578 
Q 631 2659 714 2709 
Q 797 2759 891 2759 
Q 981 2759 1064 2709 
Q 1147 2659 1194 2578 
Q 1241 2497 1241 2406 
Q 1241 2263 1139 2158 
Q 1038 2053 891 2053 
Q 747 2053 642 2158 
Q 538 2263 538 2406 
z
" transform="scale(0.015625)"/>
     <path id="Cmr10-43" d="M 1459 684 
Q 1678 406 2006 245 
Q 2334 84 2688 84 
Q 2984 84 3237 201 
Q 3491 319 3680 528 
Q 3869 738 3970 1003 
Q 4072 1269 4072 1563 
Q 4072 1613 4128 1613 
L 4206 1613 
Q 4256 1613 4256 1550 
Q 4256 1216 4128 905 
Q 4000 594 3765 358 
Q 3531 122 3226 -9 
Q 2922 -141 2591 -141 
Q 2131 -141 1720 45 
Q 1309 231 1004 554 
Q 700 878 529 1303 
Q 359 1728 359 2188 
Q 359 2647 529 3072 
Q 700 3497 1004 3822 
Q 1309 4147 1720 4330 
Q 2131 4513 2591 4513 
Q 2919 4513 3219 4370 
Q 3519 4228 3744 3969 
L 4116 4494 
Q 4153 4513 4159 4513 
L 4206 4513 
Q 4225 4513 4240 4497 
Q 4256 4481 4256 4459 
L 4256 2731 
Q 4256 2675 4206 2675 
L 4091 2675 
Q 4031 2675 4031 2731 
Q 4031 2916 3957 3144 
Q 3884 3372 3770 3576 
Q 3656 3781 3506 3938 
Q 3147 4288 2681 4288 
Q 2328 4288 2004 4128 
Q 1681 3969 1459 3688 
Q 1225 3388 1134 3005 
Q 1044 2622 1044 2188 
Q 1044 1753 1134 1368 
Q 1225 984 1459 684 
z
" transform="scale(0.015625)"/>
     <path id="Cmr10-6f" d="M 1600 -72 
Q 1216 -72 887 123 
Q 559 319 368 647 
Q 178 975 178 1363 
Q 178 1656 283 1928 
Q 388 2200 583 2414 
Q 778 2628 1037 2748 
Q 1297 2869 1600 2869 
Q 1994 2869 2317 2661 
Q 2641 2453 2828 2104 
Q 3016 1756 3016 1363 
Q 3016 978 2825 648 
Q 2634 319 2307 123 
Q 1981 -72 1600 -72 
z
M 1600 116 
Q 2113 116 2284 487 
Q 2456 859 2456 1434 
Q 2456 1756 2422 1967 
Q 2388 2178 2272 2350 
Q 2200 2456 2089 2536 
Q 1978 2616 1854 2658 
Q 1731 2700 1600 2700 
Q 1400 2700 1220 2609 
Q 1041 2519 922 2350 
Q 803 2169 770 1951 
Q 738 1734 738 1434 
Q 738 1075 800 789 
Q 863 503 1052 309 
Q 1241 116 1600 116 
z
" transform="scale(0.015625)"/>
     <path id="Cmr10-6d" d="M 191 0 
L 191 225 
Q 409 225 550 259 
Q 691 294 691 428 
L 691 2175 
Q 691 2347 639 2423 
Q 588 2500 491 2517 
Q 394 2534 191 2534 
L 191 2759 
L 1119 2828 
L 1119 2203 
Q 1247 2478 1498 2653 
Q 1750 2828 2047 2828 
Q 2784 2828 2913 2228 
Q 3041 2497 3287 2662 
Q 3534 2828 3828 2828 
Q 4119 2828 4317 2734 
Q 4516 2641 4616 2448 
Q 4716 2256 4716 1966 
L 4716 428 
Q 4716 294 4858 259 
Q 5000 225 5216 225 
L 5216 0 
L 3750 0 
L 3750 225 
Q 3969 225 4109 259 
Q 4250 294 4250 428 
L 4250 1947 
Q 4250 2269 4159 2466 
Q 4069 2663 3788 2663 
Q 3419 2663 3178 2366 
Q 2938 2069 2938 1691 
L 2938 428 
Q 2938 294 3078 259 
Q 3219 225 3438 225 
L 3438 0 
L 1972 0 
L 1972 225 
Q 2191 225 2331 259 
Q 2472 294 2472 428 
L 2472 1947 
Q 2472 2259 2381 2461 
Q 2291 2663 2009 2663 
Q 1638 2663 1398 2366 
Q 1159 2069 1159 1691 
L 1159 428 
Q 1159 294 1300 259 
Q 1441 225 1656 225 
L 1656 0 
L 191 0 
z
" transform="scale(0.015625)"/>
     <path id="Cmr10-70" d="M 166 -1241 
L 166 -1019 
Q 384 -1019 525 -981 
Q 666 -944 666 -813 
L 666 2272 
Q 666 2447 541 2490 
Q 416 2534 166 2534 
L 166 2759 
L 1113 2828 
L 1113 2431 
Q 1288 2625 1520 2726 
Q 1753 2828 2016 2828 
Q 2394 2828 2697 2623 
Q 3000 2419 3170 2086 
Q 3341 1753 3341 1381 
Q 3341 994 3152 659 
Q 2963 325 2636 126 
Q 2309 -72 1919 -72 
Q 1453 -72 1131 306 
L 1131 -813 
Q 1131 -944 1273 -981 
Q 1416 -1019 1631 -1019 
L 1631 -1241 
L 166 -1241 
z
M 1131 622 
Q 1244 394 1444 245 
Q 1644 97 1881 97 
Q 2103 97 2273 215 
Q 2444 334 2559 534 
Q 2675 734 2729 954 
Q 2784 1175 2784 1381 
Q 2784 1638 2692 1936 
Q 2600 2234 2411 2439 
Q 2222 2644 1953 2644 
Q 1694 2644 1476 2511 
Q 1259 2378 1131 2150 
L 1131 622 
z
" transform="scale(0.015625)"/>
     <path id="Cmr10-61" d="M 256 628 
Q 256 1009 556 1248 
Q 856 1488 1276 1586 
Q 1697 1684 2075 1684 
L 2075 1947 
Q 2075 2131 1994 2304 
Q 1913 2478 1759 2589 
Q 1606 2700 1422 2700 
Q 997 2700 775 2509 
Q 897 2509 976 2417 
Q 1056 2325 1056 2203 
Q 1056 2075 965 1984 
Q 875 1894 750 1894 
Q 622 1894 531 1984 
Q 441 2075 441 2203 
Q 441 2541 747 2705 
Q 1053 2869 1422 2869 
Q 1681 2869 1943 2758 
Q 2206 2647 2373 2440 
Q 2541 2234 2541 1959 
L 2541 519 
Q 2541 394 2594 289 
Q 2647 184 2759 184 
Q 2866 184 2917 290 
Q 2969 397 2969 519 
L 2969 928 
L 3156 928 
L 3156 519 
Q 3156 375 3081 245 
Q 3006 116 2879 39 
Q 2753 -38 2606 -38 
Q 2419 -38 2283 107 
Q 2147 253 2131 453 
Q 2013 213 1781 70 
Q 1550 -72 1288 -72 
Q 1044 -72 808 0 
Q 572 72 414 226 
Q 256 381 256 628 
z
M 775 628 
Q 775 403 940 250 
Q 1106 97 1331 97 
Q 1538 97 1706 200 
Q 1875 303 1975 481 
Q 2075 659 2075 856 
L 2075 1522 
Q 1784 1522 1479 1426 
Q 1175 1331 975 1128 
Q 775 925 775 628 
z
" transform="scale(0.015625)"/>
     <path id="Cmr10-6e" d="M 191 0 
L 191 225 
Q 409 225 550 259 
Q 691 294 691 428 
L 691 2175 
Q 691 2347 639 2423 
Q 588 2500 491 2517 
Q 394 2534 191 2534 
L 191 2759 
L 1119 2828 
L 1119 2203 
Q 1247 2478 1498 2653 
Q 1750 2828 2047 2828 
Q 2491 2828 2714 2615 
Q 2938 2403 2938 1966 
L 2938 428 
Q 2938 294 3078 259 
Q 3219 225 3438 225 
L 3438 0 
L 1972 0 
L 1972 225 
Q 2191 225 2331 259 
Q 2472 294 2472 428 
L 2472 1947 
Q 2472 2259 2381 2461 
Q 2291 2663 2009 2663 
Q 1638 2663 1398 2366 
Q 1159 2069 1159 1691 
L 1159 428 
Q 1159 294 1300 259 
Q 1441 225 1656 225 
L 1656 0 
L 191 0 
z
" transform="scale(0.015625)"/>
     <path id="Cmr10-74" d="M 653 769 
L 653 2534 
L 122 2534 
L 122 2700 
Q 541 2700 737 3090 
Q 934 3481 934 3938 
L 1119 3938 
L 1119 2759 
L 2022 2759 
L 2022 2534 
L 1119 2534 
L 1119 781 
Q 1119 516 1208 316 
Q 1297 116 1528 116 
Q 1747 116 1844 327 
Q 1941 538 1941 781 
L 1941 1159 
L 2125 1159 
L 2125 769 
Q 2125 569 2051 373 
Q 1978 178 1834 53 
Q 1691 -72 1484 -72 
Q 1100 -72 876 158 
Q 653 388 653 769 
z
" transform="scale(0.015625)"/>
     <path id="Cmr10-68" d="M 191 0 
L 191 225 
Q 409 225 550 259 
Q 691 294 691 428 
L 691 3788 
Q 691 3959 639 4036 
Q 588 4113 491 4130 
Q 394 4147 191 4147 
L 191 4372 
L 1141 4441 
L 1141 2241 
Q 1275 2506 1515 2667 
Q 1756 2828 2047 2828 
Q 2491 2828 2714 2615 
Q 2938 2403 2938 1966 
L 2938 428 
Q 2938 294 3078 259 
Q 3219 225 3438 225 
L 3438 0 
L 1972 0 
L 1972 225 
Q 2191 225 2331 259 
Q 2472 294 2472 428 
L 2472 1947 
Q 2472 2259 2381 2461 
Q 2291 2663 2009 2663 
Q 1638 2663 1398 2366 
Q 1159 2069 1159 1691 
L 1159 428 
Q 1159 294 1300 259 
Q 1441 225 1656 225 
L 1656 0 
L 191 0 
z
" transform="scale(0.015625)"/>
     <path id="Cmr10-53" d="M 359 -91 
L 359 1403 
Q 359 1453 416 1453 
L 494 1453 
Q 513 1453 528 1437 
Q 544 1422 544 1403 
Q 544 775 933 429 
Q 1322 84 1953 84 
Q 2175 84 2362 212 
Q 2550 341 2654 548 
Q 2759 756 2759 978 
Q 2759 1172 2681 1355 
Q 2603 1538 2456 1672 
Q 2309 1806 2125 1850 
L 1294 2053 
Q 881 2163 620 2502 
Q 359 2841 359 3263 
Q 359 3594 528 3884 
Q 697 4175 983 4344 
Q 1269 4513 1600 4513 
Q 2241 4513 2619 4078 
L 2881 4494 
Q 2900 4513 2925 4513 
L 2969 4513 
Q 2988 4513 3005 4498 
Q 3022 4484 3022 4459 
L 3022 2975 
Q 3022 2919 2969 2919 
L 2894 2919 
Q 2834 2919 2834 2975 
Q 2834 3138 2779 3331 
Q 2725 3525 2628 3703 
Q 2531 3881 2419 3994 
Q 2109 4306 1600 4306 
Q 1381 4306 1197 4195 
Q 1013 4084 903 3893 
Q 794 3703 794 3494 
Q 794 3219 964 2995 
Q 1134 2772 1409 2700 
L 2241 2497 
Q 2447 2447 2630 2317 
Q 2813 2188 2934 2016 
Q 3056 1844 3125 1633 
Q 3194 1422 3194 1197 
Q 3194 850 3034 542 
Q 2875 234 2586 46 
Q 2297 -141 1953 -141 
Q 1741 -141 1519 -94 
Q 1297 -47 1109 50 
Q 922 147 769 300 
L 500 -122 
Q 481 -141 453 -141 
L 416 -141 
Q 359 -141 359 -91 
z
" transform="scale(0.015625)"/>
     <path id="Cmr10-4c" d="M 197 0 
L 197 225 
Q 856 225 856 428 
L 856 3944 
Q 856 4147 197 4147 
L 197 4372 
L 2272 4372 
L 2272 4147 
Q 1453 4147 1453 3944 
L 1453 428 
Q 1453 291 1531 258 
Q 1609 225 1778 225 
L 2272 225 
Q 2750 225 3009 400 
Q 3269 575 3376 876 
Q 3484 1178 3541 1678 
L 3725 1678 
L 3547 0 
L 197 0 
z
" transform="scale(0.015625)"/>
     <path id="Cmr10-55" d="M 856 1447 
L 856 3944 
Q 856 4147 197 4147 
L 197 4372 
L 2113 4372 
L 2113 4147 
Q 1453 4147 1453 3944 
L 1453 1472 
Q 1453 1116 1551 798 
Q 1650 481 1883 282 
Q 2116 84 2491 84 
Q 2856 84 3134 276 
Q 3413 469 3563 787 
Q 3713 1106 3713 1472 
L 3713 3769 
Q 3713 4147 3053 4147 
L 3053 4372 
L 4594 4372 
L 4594 4147 
Q 3938 4147 3938 3769 
L 3938 1447 
Q 3938 1150 3833 865 
Q 3728 581 3529 351 
Q 3331 122 3062 -9 
Q 2794 -141 2491 -141 
Q 2066 -141 1686 71 
Q 1306 284 1081 650 
Q 856 1016 856 1447 
z
" transform="scale(0.015625)"/>
     <path id="Cmr10-28" d="M 1984 -1588 
Q 1628 -1306 1370 -942 
Q 1113 -578 948 -165 
Q 784 247 703 697 
Q 622 1147 622 1600 
Q 622 2059 703 2509 
Q 784 2959 951 3375 
Q 1119 3791 1378 4153 
Q 1638 4516 1984 4788 
Q 1984 4800 2016 4800 
L 2075 4800 
Q 2094 4800 2109 4783 
Q 2125 4766 2125 4744 
Q 2125 4716 2113 4703 
Q 1800 4397 1592 4047 
Q 1384 3697 1257 3301 
Q 1131 2906 1075 2482 
Q 1019 2059 1019 1600 
Q 1019 -434 2106 -1491 
Q 2125 -1509 2125 -1544 
Q 2125 -1559 2108 -1579 
Q 2091 -1600 2075 -1600 
L 2016 -1600 
Q 1984 -1600 1984 -1588 
z
" transform="scale(0.015625)"/>
     <path id="Cmr10-6b" d="M 166 0 
L 166 225 
Q 384 225 525 259 
Q 666 294 666 428 
L 666 3788 
Q 666 3959 614 4036 
Q 563 4113 466 4130 
Q 369 4147 166 4147 
L 166 4372 
L 1113 4441 
L 1113 1403 
L 1972 2156 
Q 2100 2278 2100 2381 
Q 2100 2456 2047 2495 
Q 1994 2534 1919 2534 
L 1919 2759 
L 3122 2759 
L 3122 2534 
Q 2688 2534 2253 2156 
L 1797 1759 
L 2613 603 
Q 2781 363 2895 294 
Q 3009 225 3272 225 
L 3272 0 
L 1997 0 
L 1997 225 
Q 2216 225 2216 359 
Q 2216 456 2100 603 
L 1484 1478 
L 1094 1141 
L 1094 428 
Q 1094 294 1236 259 
Q 1378 225 1594 225 
L 1594 0 
L 166 0 
z
" transform="scale(0.015625)"/>
     <path id="Cmr10-77" d="M 1416 0 
L 588 2328 
Q 531 2469 425 2501 
Q 319 2534 116 2534 
L 116 2759 
L 1434 2759 
L 1434 2534 
Q 1056 2534 1056 2375 
Q 1059 2366 1061 2356 
Q 1063 2347 1063 2328 
L 1678 603 
L 2209 2106 
L 2125 2328 
Q 2075 2469 1965 2501 
Q 1856 2534 1656 2534 
L 1656 2759 
L 2919 2759 
L 2919 2534 
Q 2541 2534 2541 2375 
Q 2541 2350 2547 2328 
L 3188 525 
L 3769 2156 
Q 3781 2206 3781 2247 
Q 3781 2381 3667 2457 
Q 3553 2534 3413 2534 
L 3413 2759 
L 4500 2759 
L 4500 2534 
Q 4306 2534 4167 2432 
Q 4028 2331 3963 2156 
L 3200 0 
Q 3178 -72 3103 -72 
L 3053 -72 
Q 2978 -72 2956 0 
L 2309 1825 
L 1663 0 
Q 1631 -72 1563 -72 
L 1516 -72 
Q 1438 -72 1416 0 
z
" transform="scale(0.015625)"/>
     <path id="Cmr10-73" d="M 213 -19 
L 213 1025 
Q 213 1075 269 1075 
L 347 1075 
Q 384 1075 397 1025 
Q 575 97 1259 97 
Q 1563 97 1767 234 
Q 1972 372 1972 659 
Q 1972 866 1812 1011 
Q 1653 1156 1434 1209 
L 1006 1294 
Q 791 1341 614 1437 
Q 438 1534 325 1695 
Q 213 1856 213 2069 
Q 213 2350 361 2529 
Q 509 2709 746 2789 
Q 984 2869 1259 2869 
Q 1588 2869 1831 2694 
L 2016 2853 
Q 2016 2869 2047 2869 
L 2094 2869 
Q 2113 2869 2128 2851 
Q 2144 2834 2144 2816 
L 2144 1978 
Q 2144 1919 2094 1919 
L 2016 1919 
Q 1959 1919 1959 1978 
Q 1959 2313 1773 2516 
Q 1588 2719 1253 2719 
Q 966 2719 755 2612 
Q 544 2506 544 2247 
Q 544 2069 695 1955 
Q 847 1841 1050 1791 
L 1484 1709 
Q 1703 1659 1892 1540 
Q 2081 1422 2192 1240 
Q 2303 1059 2303 831 
Q 2303 600 2223 429 
Q 2144 259 2001 146 
Q 1859 34 1665 -19 
Q 1472 -72 1259 -72 
Q 859 -72 575 197 
L 341 -56 
Q 341 -72 306 -72 
L 269 -72 
Q 213 -72 213 -19 
z
" transform="scale(0.015625)"/>
     <path id="Cmr10-29" d="M 416 -1600 
Q 359 -1600 359 -1544 
Q 359 -1516 372 -1503 
Q 1466 -434 1466 1600 
Q 1466 3634 384 4691 
Q 359 4706 359 4744 
Q 359 4766 376 4783 
Q 394 4800 416 4800 
L 475 4800 
Q 494 4800 506 4788 
Q 966 4425 1272 3906 
Q 1578 3388 1720 2800 
Q 1863 2213 1863 1600 
Q 1863 1147 1786 708 
Q 1709 269 1542 -157 
Q 1375 -584 1119 -945 
Q 863 -1306 506 -1588 
Q 494 -1600 475 -1600 
L 416 -1600 
z
" transform="scale(0.015625)"/>
     <path id="Cmr10-64" d="M 1563 -72 
Q 1184 -72 871 133 
Q 559 338 386 672 
Q 213 1006 213 1381 
Q 213 1769 402 2101 
Q 591 2434 916 2631 
Q 1241 2828 1631 2828 
Q 1866 2828 2075 2729 
Q 2284 2631 2438 2456 
L 2438 3788 
Q 2438 3959 2386 4036 
Q 2334 4113 2239 4130 
Q 2144 4147 1941 4147 
L 1941 4372 
L 2888 4441 
L 2888 581 
Q 2888 413 2939 336 
Q 2991 259 3086 242 
Q 3181 225 3384 225 
L 3384 0 
L 2419 -72 
L 2419 331 
Q 2253 141 2025 34 
Q 1797 -72 1563 -72 
z
M 909 556 
Q 1019 347 1201 222 
Q 1384 97 1600 97 
Q 1866 97 2087 250 
Q 2309 403 2419 647 
L 2419 2181 
Q 2344 2322 2230 2433 
Q 2116 2544 1973 2603 
Q 1831 2663 1672 2663 
Q 1338 2663 1134 2473 
Q 931 2284 850 1990 
Q 769 1697 769 1375 
Q 769 1119 795 928 
Q 822 738 909 556 
z
" transform="scale(0.015625)"/>
     <path id="Cmr10-52" d="M 213 0 
L 213 225 
Q 872 225 872 428 
L 872 3944 
Q 872 4147 213 4147 
L 213 4372 
L 2222 4372 
Q 2581 4372 2976 4242 
Q 3372 4113 3637 3847 
Q 3903 3581 3903 3213 
Q 3903 2944 3742 2733 
Q 3581 2522 3329 2380 
Q 3078 2238 2816 2175 
Q 3103 2075 3318 1856 
Q 3534 1638 3578 1356 
L 3669 788 
Q 3731 403 3800 214 
Q 3869 25 4103 25 
Q 4303 25 4401 211 
Q 4500 397 4500 616 
Q 4500 638 4520 655 
Q 4541 672 4563 672 
L 4622 672 
Q 4684 672 4684 588 
Q 4684 413 4615 245 
Q 4547 78 4417 -31 
Q 4288 -141 4109 -141 
Q 3647 -141 3314 89 
Q 2981 319 2981 763 
L 2981 1331 
Q 2981 1650 2759 1878 
Q 2538 2106 2216 2106 
L 1447 2106 
L 1447 428 
Q 1447 225 2106 225 
L 2106 0 
L 213 0 
z
M 1447 2272 
L 2131 2272 
Q 2663 2272 2941 2486 
Q 3219 2700 3219 3213 
Q 3219 3722 2944 3934 
Q 2669 4147 2131 4147 
L 1772 4147 
Q 1656 4147 1592 4137 
Q 1528 4128 1487 4083 
Q 1447 4038 1447 3944 
L 1447 2272 
z
" transform="scale(0.015625)"/>
     <path id="Cmr10-63" d="M 1594 -72 
Q 1206 -72 890 129 
Q 575 331 394 667 
Q 213 1003 213 1381 
Q 213 1759 392 2106 
Q 572 2453 889 2661 
Q 1206 2869 1594 2869 
Q 1969 2869 2276 2722 
Q 2584 2575 2584 2241 
Q 2584 2116 2495 2023 
Q 2406 1931 2278 1931 
Q 2150 1931 2061 2023 
Q 1972 2116 1972 2241 
Q 1972 2353 2044 2436 
Q 2116 2519 2222 2541 
Q 2000 2681 1600 2681 
Q 1294 2681 1106 2478 
Q 919 2275 844 1975 
Q 769 1675 769 1381 
Q 769 1072 861 783 
Q 953 494 1158 305 
Q 1363 116 1672 116 
Q 1975 116 2187 302 
Q 2400 488 2478 788 
Q 2478 825 2528 825 
L 2606 825 
Q 2625 825 2640 808 
Q 2656 791 2656 769 
L 2656 750 
Q 2559 372 2271 150 
Q 1984 -72 1594 -72 
z
" transform="scale(0.015625)"/>
     <path id="Cmr10-76" d="M 1563 0 
L 628 2350 
Q 569 2469 445 2501 
Q 322 2534 122 2534 
L 122 2759 
L 1466 2759 
L 1466 2534 
Q 1106 2534 1106 2381 
Q 1106 2356 1113 2344 
L 1831 538 
L 2478 2169 
Q 2497 2219 2497 2272 
Q 2497 2394 2405 2464 
Q 2313 2534 2188 2534 
L 2188 2759 
L 3250 2759 
L 3250 2534 
Q 3053 2534 2904 2443 
Q 2756 2353 2675 2175 
L 1813 0 
Q 1788 -72 1709 -72 
L 1663 -72 
Q 1584 -72 1563 0 
z
" transform="scale(0.015625)"/>
     <path id="Cmr10-66" d="M 206 0 
L 206 225 
Q 422 225 562 259 
Q 703 294 703 428 
L 703 2534 
L 213 2534 
L 213 2759 
L 703 2759 
L 703 3525 
Q 703 3731 789 3911 
Q 875 4091 1020 4225 
Q 1166 4359 1355 4436 
Q 1544 4513 1747 4513 
Q 1963 4513 2136 4384 
Q 2309 4256 2309 4044 
Q 2309 3922 2226 3839 
Q 2144 3756 2022 3756 
Q 1900 3756 1814 3839 
Q 1728 3922 1728 4044 
Q 1728 4244 1900 4313 
Q 1797 4347 1716 4347 
Q 1528 4347 1395 4214 
Q 1263 4081 1197 3890 
Q 1131 3700 1131 3513 
L 1131 2759 
L 1869 2759 
L 1869 2534 
L 1153 2534 
L 1153 428 
Q 1153 297 1340 261 
Q 1528 225 1772 225 
L 1772 0 
L 206 0 
z
" transform="scale(0.015625)"/>
     <path id="Cmr10-2e" d="M 538 353 
Q 538 497 644 600 
Q 750 703 891 703 
Q 978 703 1062 656 
Q 1147 609 1194 525 
Q 1241 441 1241 353 
Q 1241 213 1137 106 
Q 1034 0 891 0 
Q 750 0 644 106 
Q 538 213 538 353 
z
" transform="scale(0.015625)"/>
    </defs>
    <use xlink:href="#Cmr10-46"/>
    <use xlink:href="#Cmr10-69" transform="translate(65.185547 0)"/>
    <use xlink:href="#Cmr10-67" transform="translate(92.871094 0)"/>
    <use xlink:href="#Cmr10-75" transform="translate(142.871094 0)"/>
    <use xlink:href="#Cmr10-72" transform="translate(198.388672 0)"/>
    <use xlink:href="#Cmr10-65" transform="translate(237.5 0)"/>
    <use xlink:href="#Cmr10-20" transform="translate(281.884766 0)"/>
    <use xlink:href="#Cmr10-33" transform="translate(315.185547 0)"/>
    <use xlink:href="#Cmr10-3a" transform="translate(365.185547 0)"/>
    <use xlink:href="#Cmr10-20" transform="translate(392.871094 0)"/>
    <use xlink:href="#Cmr10-43" transform="translate(426.171875 0)"/>
    <use xlink:href="#Cmr10-6f" transform="translate(498.388672 0)"/>
    <use xlink:href="#Cmr10-6d" transform="translate(548.388672 0)"/>
    <use xlink:href="#Cmr10-70" transform="translate(631.689453 0)"/>
    <use xlink:href="#Cmr10-61" transform="translate(687.207031 0)"/>
    <use xlink:href="#Cmr10-72" transform="translate(737.207031 0)"/>
    <use xlink:href="#Cmr10-69" transform="translate(776.318359 0)"/>
    <use xlink:href="#Cmr10-6e" transform="translate(804.003906 0)"/>
    <use xlink:href="#Cmr10-67" transform="translate(859.521484 0)"/>
    <use xlink:href="#Cmr10-20" transform="translate(909.521484 0)"/>
    <use xlink:href="#Cmr10-74" transform="translate(942.822266 0)"/>
    <use xlink:href="#Cmr10-68" transform="translate(981.640625 0)"/>
    <use xlink:href="#Cmr10-65" transform="translate(1037.158203 0)"/>
    <use xlink:href="#Cmr10-20" transform="translate(1081.542969 0)"/>
    <use xlink:href="#Cmr10-53" transform="translate(1114.84375 0)"/>
    <use xlink:href="#Cmr10-69" transform="translate(1170.361328 0)"/>
    <use xlink:href="#Cmr10-4c" transform="translate(1198.046875 0)"/>
    <use xlink:href="#Cmr10-55" transform="translate(1260.546875 0)"/>
    <use xlink:href="#Cmr10-20" transform="translate(1335.546875 0)"/>
    <use xlink:href="#Cmr10-28" transform="translate(1368.847656 0)"/>
    <use xlink:href="#Cmr10-61" transform="translate(1407.666016 0)"/>
    <use xlink:href="#Cmr10-6b" transform="translate(1457.666016 0)"/>
    <use xlink:href="#Cmr10-61" transform="translate(1510.351562 0)"/>
    <use xlink:href="#Cmr10-20" transform="translate(1560.351562 0)"/>
    <use xlink:href="#Cmr10-53" transform="translate(1593.652344 0)"/>
    <use xlink:href="#Cmr10-77" transform="translate(1649.169922 0)"/>
    <use xlink:href="#Cmr10-69" transform="translate(1721.386719 0)"/>
    <use xlink:href="#Cmr10-73" transform="translate(1749.072266 0)"/>
    <use xlink:href="#Cmr10-68" transform="translate(1788.476562 0)"/>
    <use xlink:href="#Cmr10-29" transform="translate(1843.994141 0)"/>
    <use xlink:href="#Cmr10-20" transform="translate(1882.8125 0)"/>
    <use xlink:href="#Cmr10-61" transform="translate(1916.113281 0)"/>
    <use xlink:href="#Cmr10-6e" transform="translate(1966.113281 0)"/>
    <use xlink:href="#Cmr10-64" transform="translate(2021.630859 0)"/>
    <use xlink:href="#Cmr10-20" transform="translate(2077.148438 0)"/>
    <use xlink:href="#Cmr10-52" transform="translate(2110.449219 0)"/>
    <use xlink:href="#Cmr10-65" transform="translate(2184.033203 0)"/>
    <use xlink:href="#Cmr10-4c" transform="translate(2228.417969 0)"/>
    <use xlink:href="#Cmr10-55" transform="translate(2290.917969 0)"/>
    <use xlink:href="#Cmr10-20" transform="translate(2365.917969 0)"/>
    <use xlink:href="#Cmr10-61" transform="translate(2399.21875 0)"/>
    <use xlink:href="#Cmr10-63" transform="translate(2449.21875 0)"/>
    <use xlink:href="#Cmr10-74" transform="translate(2493.603516 0)"/>
    <use xlink:href="#Cmr10-69" transform="translate(2532.421875 0)"/>
    <use xlink:href="#Cmr10-76" transform="translate(2560.107422 0)"/>
    <use xlink:href="#Cmr10-61" transform="translate(2612.792969 0)"/>
    <use xlink:href="#Cmr10-74" transform="translate(2662.792969 0)"/>
    <use xlink:href="#Cmr10-69" transform="translate(2701.611328 0)"/>
    <use xlink:href="#Cmr10-6f" transform="translate(2729.296875 0)"/>
    <use xlink:href="#Cmr10-6e" transform="translate(2779.296875 0)"/>
    <use xlink:href="#Cmr10-20" transform="translate(2834.814453 0)"/>
    <use xlink:href="#Cmr10-66" transform="translate(2868.115234 0)"/>
    <use xlink:href="#Cmr10-75" transform="translate(2898.632812 0)"/>
    <use xlink:href="#Cmr10-6e" transform="translate(2954.150391 0)"/>
    <use xlink:href="#Cmr10-63" transform="translate(3009.667969 0)"/>
    <use xlink:href="#Cmr10-74" transform="translate(3054.052734 0)"/>
    <use xlink:href="#Cmr10-69" transform="translate(3092.871094 0)"/>
    <use xlink:href="#Cmr10-6f" transform="translate(3120.556641 0)"/>
    <use xlink:href="#Cmr10-6e" transform="translate(3170.556641 0)"/>
    <use xlink:href="#Cmr10-73" transform="translate(3226.074219 0)"/>
    <use xlink:href="#Cmr10-2e" transform="translate(3265.478516 0)"/>
   </g>
  </g>
 </g>
 <defs>
  <clipPath id="pacdad2849d">
   <rect x="147.358491" y="10.943396" width="379.622642" height="387.45283"/>
  </clipPath>
 </defs>
</svg>

</div></body></html>
